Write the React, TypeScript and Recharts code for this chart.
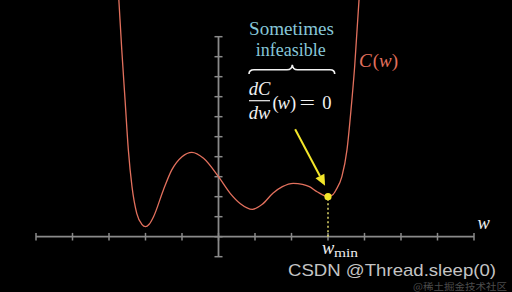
import { Line, LineChart, ReferenceDot, ReferenceLine, XAxis, YAxis } from "recharts";

const wValues = [
  -2.8, -2.73, -2.65, -2.56, -2.47, -2.37, -2.24, -2.1, -2.0, -1.9, -1.78, -1.51, -1.28, -1.0,
  -0.73, -0.41, 0, 0.32, 0.6, 0.93, 1.2, 1.49, 1.75, 2.05, 2.3, 2.49, 2.7, 3.0, 3.12, 3.22,
  3.38, 3.52, 3.63, 3.73, 3.85, 3.92,
];
const costValues = [
  14, 11.84, 9.34, 6.84, 4.34, 2.5, 1.17, 0.62, 0.5, 0.62, 1.0, 2.34, 3.34, 4.0,
  4.22, 3.92, 3.0, 2.17, 1.65, 1.37, 1.62, 2.17, 2.5, 2.67, 2.62, 2.5, 2.25, 2.0, 2.08, 2.34,
  3.0, 4.34, 6.34, 8.5, 11.84, 14,
];
const xTicks = [-5, -4, -3, -2, -1, 0, 1, 2, 3, 4, 5, 6, 7];
const yTicks = [-1, 0, 1, 2, 3, 4, 5, 6, 7, 8, 9, 10];

const wMin = 3;
const cMin = 2;
const arrowFrom = { w: 2.1, c: 5.37 };
const arrowTo = { w: 2.92, c: 2.55 };

const data = wValues.map((w, i) => ({ w, c: costValues[i] }));

const AXIS = "#8a8a8a";
const CURVE = "#e2705d";
const YELLOW = "#f3e62a";
const SERIF = "'Liberation Serif', 'DejaVu Serif', serif";

function Arrow(props: any) {
  const { x1, y1, x2, y2 } = props;
  const dx = x2 - x1;
  const dy = y2 - y1;
  const len = Math.hypot(dx, dy);
  const ux = dx / len;
  const uy = dy / len;
  const head = 11;
  const half = 5;
  const bx = x2 - ux * head;
  const by = y2 - uy * head;
  const pts = `${x2},${y2} ${bx - uy * half},${by + ux * half} ${bx + uy * half},${by - ux * half}`;
  return (
    <g>
      <line x1={x1} y1={y1} x2={bx} y2={by} stroke={YELLOW} strokeWidth={2} />
      <polygon points={pts} fill={YELLOW} />
    </g>
  );
}

function Annotations() {
  return (
    <svg
      width={512}
      height={292}
      style={{ position: "absolute", left: 0, top: 0, pointerEvents: "none" }}
    >
      <g fontFamily={SERIF} fontSize={18.5}>
        <text x={291.5} y={35.3} textAnchor="middle" fill="#86c6d8" textLength={85} lengthAdjust="spacingAndGlyphs">
          Sometimes
        </text>
        <text x={290.7} y={55.5} textAnchor="middle" fill="#86c6d8" textLength={70} lengthAdjust="spacingAndGlyphs">
          infeasible
        </text>
        <path
          d="M249,74 Q249,69.7 254,69.7 L287,69.7 Q292,69.7 292.3,64.7 Q292.6,69.7 297.6,69.7 L330,69.7 Q334.7,69.7 334.7,74"
          fill="none"
          stroke="#f2f2f2"
          strokeWidth={1.6}
        />
        <text x={259.5} y={95} textAnchor="middle" fill="#f2f2f2" fontStyle="italic">
          dC
        </text>
        <line x1={249} y1={100.7} x2={270} y2={100.7} stroke="#f2f2f2" strokeWidth={1.2} />
        <text x={259.5} y={118.7} textAnchor="middle" fill="#f2f2f2" fontStyle="italic">
          dw
        </text>
        <text x={272.5} y={109.3} fill="#f2f2f2">(</text>
        <text x={277.5} y={109.3} fill="#f2f2f2" fontStyle="italic">w</text>
        <text x={290} y={109.3} fill="#f2f2f2">)</text>
        <text x={299.5} y={109.3} fill="#f2f2f2" textLength={15.5} lengthAdjust="spacingAndGlyphs">=</text>
        <text x={322.3} y={109.3} fill="#f2f2f2">0</text>

        <text x={359} y={67} fill={CURVE} fontSize={19}>
          <tspan fontStyle="italic">C</tspan>
          <tspan dx={1}>(</tspan>
          <tspan fontStyle="italic">w</tspan>
          <tspan>)</tspan>
        </text>

        <text x={477.5} y={229} fill="#eeeeee" fontStyle="italic">w</text>
        <text x={322} y={253.5} fill="#eeeeee" fontStyle="italic">w</text>
        <text x={334} y={257} fill="#eeeeee" fontSize={13} textLength={24} lengthAdjust="spacingAndGlyphs">
          min
        </text>
      </g>
      <text
        x={288}
        y={276}
        fill="#c4c4c4"
        fontFamily="'Liberation Sans', Arial, sans-serif"
        fontSize={17}
        textLength={208}
        lengthAdjust="spacingAndGlyphs"
      >
        CSDN @Thread.sleep(0)
      </text>
      <text
        x={413}
        y={290}
        fill="#4c4c4c"
        fontFamily="'Noto Sans CJK SC', sans-serif"
        fontSize={9.5}
        textLength={94}
        lengthAdjust="spacingAndGlyphs"
      >
        @稀土掘金技术社区
      </text>
    </svg>
  );
}

export default function App() {
  return (
    <div style={{ position: "absolute", left: 0, top: 0, width: 512, height: 292, background: "#000" }}>
      <LineChart width={512} height={292} data={data} margin={{ top: 0, right: 38, bottom: 0, left: 36 }}>
        <XAxis dataKey="w" type="number" domain={[-5, 7]} allowDataOverflow hide />
        <YAxis type="number" domain={[-2.765, 11.835]} allowDataOverflow hide />

        <ReferenceLine segment={[{ x: -5, y: 0 }, { x: 7, y: 0 }]} stroke={AXIS} strokeWidth={1.8} />
        <ReferenceLine segment={[{ x: 0, y: -1 }, { x: 0, y: 10 }]} stroke={AXIS} strokeWidth={1.8} />
        {xTicks.map((t) => (
          <ReferenceLine key={`xt${t}`} segment={[{ x: t, y: -0.19 }, { x: t, y: 0.19 }]} stroke={AXIS} strokeWidth={1.5} />
        ))}
        {yTicks.map((t) => (
          <ReferenceLine key={`yt${t}`} segment={[{ x: -0.11, y: t }, { x: 0.11, y: t }]} stroke={AXIS} strokeWidth={1.5} />
        ))}

        <Line
          type="monotone"
          dataKey="c"
          stroke={CURVE}
          strokeWidth={1.3}
          dot={false}
          isAnimationActive={false}
        />

        <ReferenceLine
          segment={[{ x: wMin, y: 0 }, { x: wMin, y: cMin }]}
          stroke="#e0d86a"
          strokeWidth={1.5}
          strokeDasharray="2 2.5"
        />
        <ReferenceLine
          segment={[{ x: arrowFrom.w, y: arrowFrom.c }, { x: arrowTo.w, y: arrowTo.c }]}
          stroke={YELLOW}
          shape={Arrow}
        />
        <ReferenceDot x={wMin} y={cMin} r={3.6} fill={YELLOW} stroke="none" />
      </LineChart>
      <Annotations />
    </div>
  );
}
